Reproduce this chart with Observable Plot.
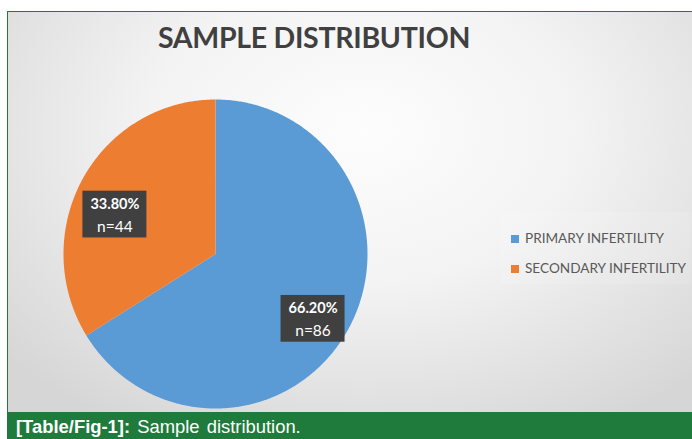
<!DOCTYPE html>
<html>
<head>
<meta charset="utf-8">
<script src="https://cdn.jsdelivr.net/npm/d3@7"></script>
<script src="https://cdn.jsdelivr.net/npm/@observablehq/plot@0.6"></script>
<style>
  html, body { margin: 0; padding: 0; background: #ffffff; width: 692px; height: 439px; overflow: hidden; }
  #frame {
    position: absolute; left: 7px; top: 11px; width: 685px; height: 428px;
    border-top: 1.5px solid #1f7b3c; border-left: 1.5px solid #1f7b3c; box-sizing: border-box;
  }
  #chart {
    position: absolute; left: 0; top: 0; width: 684px; height: 400px;
    background: radial-gradient(ellipse 70% 85% at 52% 30%, #fdfdfd 0%, #f3f3f3 45%, #dedede 85%, #d6d6d6 100%);
    overflow: hidden;
  }
  #title {
    position: absolute; left: 0; width: 612px; top: 8px; text-align: center;
    font-family: Lato, "Open Sans", sans-serif; font-weight: 700; font-size: 28.5px; color: #404040;
    letter-spacing: -0.3px;
  }
  #legend {
    position: absolute; left: 493px; top: 200px; width: 190px; height: 72px;
    font-family: Lato, "Open Sans", sans-serif; font-size: 13.6px; color: #595959;
    background: rgba(255,255,255,0.12);
  }
  .item { position: absolute; left: 10px; white-space: nowrap; }
  .sw { display: inline-block; width: 8px; height: 8px; margin-right: 6px; vertical-align: 0px; }
  #caption {
    position: absolute; left: 0; top: 400px; width: 684px; height: 28px; background: #1f7b3c;
    font-family: "Liberation Sans", Arial, sans-serif; font-size: 18.4px; color: #ffffff;
    line-height: 30px; padding-left: 8px; box-sizing: border-box; white-space: nowrap;
    word-spacing: 2px;
  }
  #plot { position: absolute; left: 0; top: 0; }
</style>
</head>
<body>
<div id="frame">
  <div id="chart">
    <div id="plot"></div>
    <div id="title">SAMPLE DISTRIBUTION</div>
    <div id="legend"></div>
  </div>
  <div id="caption"><b>[Table/Fig-1]:</b> Sample distribution.</div>
</div>
<script>
// ---- data ----
const categories = ["PRIMARY INFERTILITY", "SECONDARY INFERTILITY"];
const counts = [86, 44];
const percentLabels = ["66.20%", "33.80%"];
const countLabels = ["n=86", "n=44"];
const colors = ["#5b9bd5", "#ed7d31"];

// ---- geometry from data ----
const arcs = d3.pie().sort(null).value(d => d)(counts);
const wedgePoints = [];
arcs.forEach((a, i) => {
  const cat = categories[i];
  wedgePoints.push({cat, x: 0, y: 0});
  const steps = Math.max(2, Math.ceil((a.endAngle - a.startAngle) / (Math.PI / 360)));
  for (let k = 0; k <= steps; k++) {
    const t = a.startAngle + (a.endAngle - a.startAngle) * k / steps;
    wedgePoints.push({cat, x: Math.sin(t), y: Math.cos(t)});
  }
  wedgePoints.push({cat, x: 0, y: 0});
});

// label placement (layout): radius fraction and small offsets, in radius units
const labelLayout = [{r: 0.74, dx: -0.005, dy: -0.06}, {r: 0.70, dx: -0.05, dy: -0.085}];
const labels = arcs.map((a, i) => {
  const m = (a.startAngle + a.endAngle) / 2;
  const L = labelLayout[i];
  return {
    cat: categories[i], pct: percentLabels[i], n: countLabels[i],
    x: Math.sin(m) * L.r + L.dx, y: Math.cos(m) * L.r + L.dy
  };
});
const R = 152; // pixel radius for box sizes
const boxW = 64 / R, boxH = 46 / R;

const plot = Plot.plot({
  width: 684, height: 400,
  margin: 0,
  style: {background: "transparent", overflow: "visible"},
  x: {domain: [-1, 1], range: [55, 359], axis: null},
  y: {domain: [-1, 1], range: [396, 87], axis: null},
  color: {domain: categories, range: colors},
  marks: [
    Plot.line(wedgePoints, {x: "x", y: "y", z: "cat", fill: "cat", stroke: null, curve: "linear"}),
    Plot.rect(labels, {
      x1: d => d.x - boxW / 2, x2: d => d.x + boxW / 2,
      y1: d => d.y - boxH / 2, y2: d => d.y + boxH / 2,
      fill: "#404040"
    }),
    Plot.text(labels, {x: "x", y: "y", text: "pct", dy: -10, fill: "white",
      fontFamily: "Lato, 'Open Sans', sans-serif", fontWeight: 700, fontSize: 14.5}),
    Plot.text(labels, {x: "x", y: "y", text: "n", dy: 12, fill: "white",
      fontFamily: "Lato, 'Open Sans', sans-serif", fontWeight: 400, fontSize: 15.5})
  ]
});
document.getElementById("plot").appendChild(plot);

// legend
const legend = document.getElementById("legend");
categories.forEach((c, i) => {
  const el = document.createElement("div");
  el.className = "item";
  el.style.top = (18 + i * 30) + "px";
  el.innerHTML = `<span class="sw" style="background:${colors[i]}"></span>${c}`;
  legend.appendChild(el);
});
</script>
</body>
</html>
